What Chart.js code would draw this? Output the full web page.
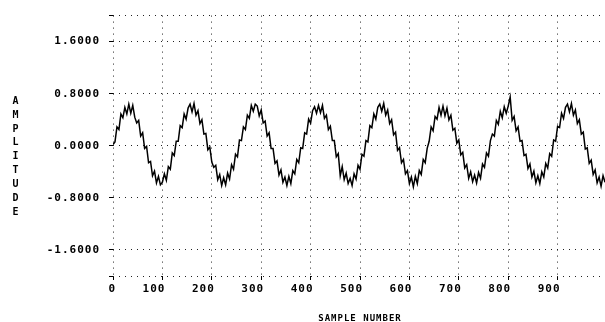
<!DOCTYPE html>
<html>
<head>
<meta charset="utf-8">
<script src="https://cdn.jsdelivr.net/npm/chart.js@4.4.1/dist/chart.umd.min.js"></script>
<style>
  html, body { margin: 0; padding: 0; background: #fff; overflow: hidden; }
  #wrap { width: 610px; height: 322px; }
</style>
</head>
<body>
<div id="wrap"><canvas id="scope" width="610" height="322"></canvas></div>
<script>
// one reading every 4 samples
const sampleStep = 4;

const amplitude = [
  0.02, 0.06, 0.29, 0.25, 0.49, 0.43, 0.59, 0.49, 0.64, 0.50, 0.62, 0.44, 0.35, 0.39, 0.15, 0.20,
  -0.04, -0.01, -0.26, -0.24, -0.46, -0.39, -0.57, -0.47, -0.60, -0.56, -0.43, -0.53, -0.32, -0.36, -0.11, -0.15,
  0.07, 0.07, 0.31, 0.28, 0.49, 0.41, 0.58, 0.64, 0.52, 0.65, 0.47, 0.54, 0.34, 0.40, 0.18, 0.19,
  -0.06, -0.02, -0.25, -0.33, -0.30, -0.52, -0.44, -0.61, -0.49, -0.60, -0.42, -0.51, -0.29, -0.36, -0.13, -0.17,
  0.09, 0.08, 0.29, 0.25, 0.47, 0.42, 0.62, 0.53, 0.64, 0.61, 0.46, 0.55, 0.35, 0.38, 0.15, 0.20,
  -0.04, -0.04, -0.27, -0.23, -0.45, -0.37, -0.56, -0.48, -0.61, -0.47, -0.58, -0.38, -0.43, -0.21, -0.26, -0.03,
  -0.04, 0.20, 0.18, 0.41, 0.35, 0.54, 0.60, 0.50, 0.62, 0.51, 0.62, 0.42, 0.47, 0.25, 0.30, 0.08,
  0.08, -0.17, -0.12, -0.46, -0.32, -0.52, -0.42, -0.58, -0.50, -0.61, -0.43, -0.51, -0.30, -0.36, -0.13, -0.16,
  0.08, 0.06, 0.31, 0.28, 0.49, 0.41, 0.59, 0.64, 0.53, 0.65, 0.47, 0.55, 0.34, 0.40, 0.17, 0.21,
  -0.07, -0.03, -0.26, -0.21, -0.43, -0.38, -0.58, -0.48, -0.63, -0.47, -0.58, -0.38, -0.44, -0.21, -0.26, -0.04,
  0.07, 0.29, 0.23, 0.45, 0.41, 0.59, 0.47, 0.61, 0.46, 0.58, 0.40, 0.47, 0.24, 0.27, 0.04, 0.09,
  -0.14, -0.10, -0.34, -0.29, -0.50, -0.40, -0.55, -0.45, -0.57, -0.41, -0.50, -0.28, -0.33, -0.11, -0.16, 0.08,
  0.18, 0.15, 0.39, 0.33, 0.53, 0.43, 0.60, 0.50, 0.61, 0.75, 0.39, 0.45, 0.23, 0.29, 0.07, 0.08,
  -0.15, -0.13, -0.35, -0.28, -0.48, -0.39, -0.57, -0.46, -0.58, -0.40, -0.48, -0.27, -0.34, -0.12, -0.16, 0.09,
  0.07, 0.30, 0.28, 0.50, 0.42, 0.59, 0.64, 0.52, 0.65, 0.47, 0.55, 0.34, 0.40, 0.18, 0.21, -0.05,
  -0.03, -0.27, -0.22, -0.44, -0.37, -0.57, -0.48, -0.62, -0.46, -0.56
];

const xTicks = [0, 100, 200, 300, 400, 500, 600, 700, 800, 900];
const xEnd = 1000;
const yTicks = [-1.6, -0.8, 0, 0.8, 1.6];
const yEdge = 2;

const xTitle = "SAMPLE NUMBER";
const yTitle = "AMPLITUDE";

const monoFont = '"DejaVu Sans Mono", "Liberation Mono", monospace';

// blocky terminal-style lettering + the stacked y title
const plotText = {
  id: "plotText",
  beforeDraw(chart) {
    chart.ctx.letterSpacing = "1px";
  },
  afterDraw(chart) {
    const { ctx, chartArea } = chart;
    ctx.save();
    ctx.font = "bold 10px " + monoFont;
    ctx.fillStyle = "#000";
    ctx.textAlign = "center";
    ctx.textBaseline = "middle";
    const step = 13.9;
    const mid = (chartArea.top + chartArea.bottom) / 2 + 11;
    const first = mid - (step * (yTitle.length - 1)) / 2;
    [...yTitle].forEach((ch, i) => ctx.fillText(ch, 16, first + i * step));
    ctx.restore();
  },
};

const gridStyle = {
  color: "#222",
  lineWidth: 1,
  tickLength: 4,
  tickColor: "#000",
  tickBorderDash: [],
};

new Chart(document.getElementById("scope"), {
  type: "line",
  data: {
    datasets: [
      {
        data: amplitude.map((v, i) => ({ x: i * sampleStep, y: v })),
        borderColor: "#000",
        borderWidth: 1.5,
        pointRadius: 0,
        tension: 0,
      },
    ],
  },
  options: {
    responsive: false,
    animation: false,
    devicePixelRatio: 1,
    layout: { padding: { top: 11, right: 1, left: 0, bottom: 0 } },
    plugins: {
      legend: { display: false },
      tooltip: { enabled: false },
    },
    scales: {
      x: {
        type: "linear",
        min: 0,
        max: xEnd,
        afterBuildTicks(scale) {
          scale.ticks = [...xTicks, xEnd].map((value) => ({ value }));
        },
        afterFit(scale) {
          scale.height = 46;
        },
        grid: gridStyle,
        border: { display: false, dash: [1, 5] },
        ticks: {
          autoSkip: false,
          maxRotation: 0,
          align: "end",
          labelOffset: 3,
          padding: 3,
          color: "#000",
          font: { family: monoFont, size: 11, weight: "bold" },
          callback: (v) => (xTicks.includes(v) ? String(v) : ""),
        },
        title: {
          display: true,
          text: xTitle,
          color: "#000",
          font: { family: monoFont, size: 9, weight: "bold" },
          padding: { top: 0, bottom: -2 },
        },
      },
      y: {
        min: -yEdge,
        max: yEdge,
        afterBuildTicks(scale) {
          scale.ticks = [-yEdge, ...yTicks, yEdge].map((value) => ({ value }));
        },
        afterFit(scale) {
          scale.width = 113;
        },
        grid: gridStyle,
        border: { display: false, dash: [1, 5] },
        ticks: {
          autoSkip: false,
          padding: 9,
          color: "#000",
          font: { family: monoFont, size: 11, weight: "bold" },
          callback: (v) => (yTicks.includes(v) ? v.toFixed(4) : ""),
        },
      },
    },
  },
  plugins: [plotText],
});
</script>
</body>
</html>
